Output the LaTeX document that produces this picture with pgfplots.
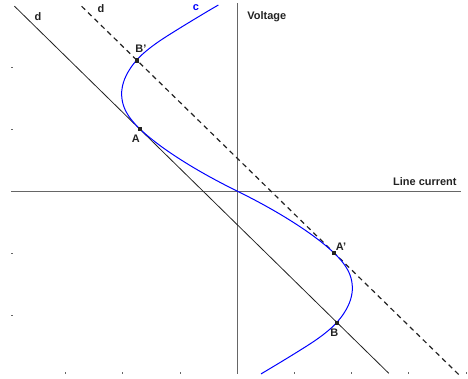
\documentclass[border=0pt]{standalone}
\usepackage{pgfplots}
\pgfplotsset{compat=1.18}
\usepackage{fontspec}
\setmainfont{Liberation Sans}
\definecolor{ink}{HTML}{222222}
\definecolor{axisgray}{HTML}{666666}
\begin{document}
\begin{tikzpicture}
\useasboundingbox (0,0) rectangle (468bp,379bp);
\begin{axis}[
  x=57.2bp, y=62bp,
  at={(237bp,188bp)}, anchor=origin,
  xmin=-3.95, xmax=4.0,
  ymin=-2.95, ymax=3.03,
  axis line style={draw=none},
  xtick={-3,...,4}, ytick={-2,-1,1,2},
  xticklabels={}, yticklabels={},
  xtick pos=bottom, ytick pos=left,
  tick align=inside,
  major tick length=1.5bp,
  tick style={axisgray, line width=0.6pt},
  clip=false,
  font=\fontsize{11}{13}\selectfont\bfseries,
]
  % axes through the origin
  \addplot[axisgray, line width=0.9pt] coordinates {(-3.95,0) (3.92,0)};
  \addplot[axisgray, line width=0.9pt] coordinates {(0,3.03) (0,-2.95)};
  % line d (solid)
  \addplot[ink, line width=0.8pt] coordinates {(-3.89,2.98) (2.653,-2.94)};
  % line d' (dashed)
  \addplot[ink, line width=1.2pt, dash pattern=on 5bp off 4bp] coordinates {(-2.717,2.98) (3.88,-2.964)};
  % curve c
  \addplot[blue, line width=1pt, smooth] coordinates {
    (-0.326,3.0) (-0.511,2.9) (-0.692,2.8) (-0.871,2.7) (-1.047,2.6)
    (-1.220,2.5) (-1.384,2.4) (-1.531,2.3) (-1.659,2.2) (-1.764,2.1)
    (-1.849,2.0) (-1.916,1.9) (-1.967,1.8) (-2.000,1.7) (-2.016,1.6)
    (-2.013,1.5) (-1.992,1.4) (-1.951,1.3) (-1.887,1.2) (-1.802,1.1)
    (-1.697,1.0) (-1.576,0.9) (-1.442,0.8) (-1.297,0.7) (-1.141,0.6)
    (-0.975,0.5) (-0.800,0.4) (-0.615,0.3) (-0.420,0.2) (-0.215,0.1)
    (0,0)
    (0.215,-0.1) (0.420,-0.2) (0.615,-0.3) (0.800,-0.4) (0.975,-0.5)
    (1.141,-0.6) (1.297,-0.7) (1.442,-0.8) (1.576,-0.9) (1.697,-1.0)
    (1.802,-1.1) (1.887,-1.2) (1.951,-1.3) (1.992,-1.4) (2.013,-1.5)
    (2.016,-1.6) (2.000,-1.7) (1.967,-1.8) (1.916,-1.9) (1.849,-2.0)
    (1.764,-2.1) (1.659,-2.2) (1.531,-2.3) (1.384,-2.4) (1.220,-2.5)
    (1.047,-2.6) (0.871,-2.7) (0.692,-2.8) (0.511,-2.9) (0.42,-2.95)
  };
  % marked points
  \addplot[only marks, mark=square*, mark size=1.6bp, ink] coordinates {
    (-1.751,2.11) (-1.697,1.0) (1.697,-1.0) (1.745,-2.12)
  };
  % labels
  \node[ink] at (axis cs:-3.48,2.81) {d};
  \node[ink] at (axis cs:-2.38,2.95) {d};
  \node[blue] at (axis cs:-0.72,2.95) {c};
  \node[ink, anchor=west] at (axis cs:0.12,2.81) {Voltage};
  \node[ink, anchor=east] at (axis cs:3.90,0.145) {Line current};
  \node[ink] at (axis cs:-1.68,2.29) {B'};
  \node[ink] at (axis cs:-1.77,0.85) {A};
  \node[ink] at (axis cs:1.82,-0.90) {A'};
  \node[ink] at (axis cs:1.70,-2.29) {B};
\end{axis}
\end{tikzpicture}
\end{document}
